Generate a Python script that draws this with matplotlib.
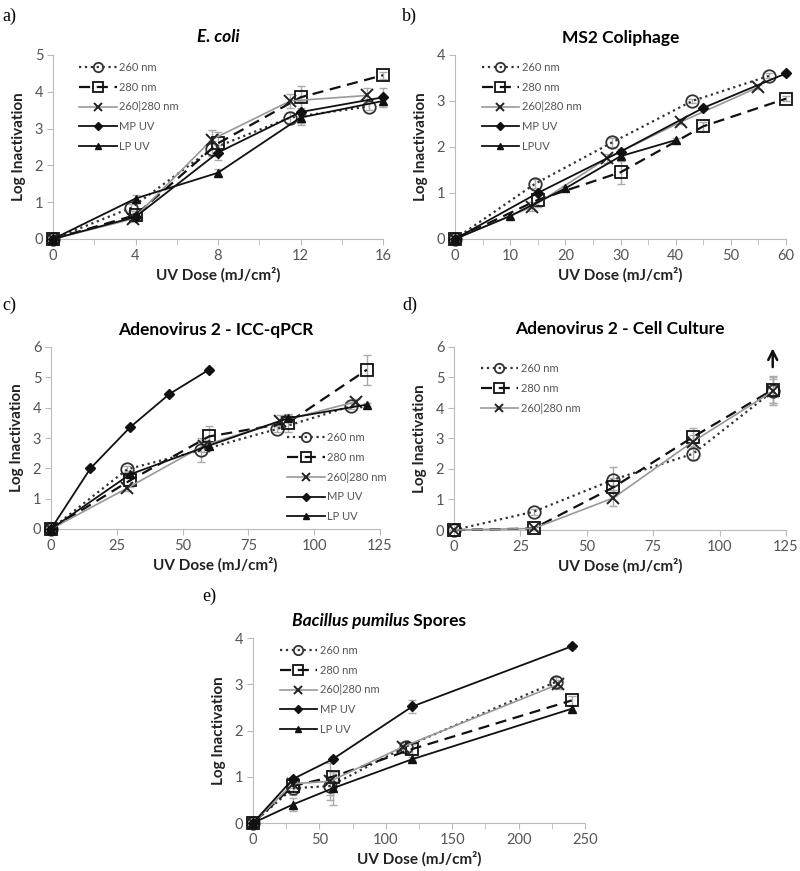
import matplotlib
matplotlib.use('Agg')
import matplotlib.pyplot as plt

plt.rcParams['font.family'] = ['Lato', 'DejaVu Sans']

labels = ['260 nm', '280 nm', '260|280 nm', 'MP UV', 'LP UV']
labels_b = ['260 nm', '280 nm', '260|280 nm', 'MP UV', 'LPUV']

# a) E. coli
a_x = [[0, 3.8, 7.7, 11.5, 15.3], [0, 4, 8, 12, 16], [0, 3.9, 7.7, 11.5, 15.2],
       [0, 4, 8, 12, 16], [0, 4, 8, 12, 16]]
a_y = [[0, 0.85, 2.45, 3.3, 3.6], [0, 0.65, 2.6, 3.85, 4.45], [0, 0.55, 2.7, 3.75, 3.9],
       [0, 0.6, 2.35, 3.45, 3.85], [0, 1.1, 1.8, 3.3, 3.75]]
a_err = [[0, 0.1, 0.2, 0.15, 0.1], [0, 0.1, 0.3, 0.3, 0.1], [0, 0.1, 0.25, 0.2, 0.2],
         [0, 0.1, 0.2, 0.3, 0.25], [0, 0.1, 0.1, 0.2, 0.1]]

# b) MS2 coliphage
b_x = [[0, 14.5, 28.5, 43, 57], [0, 15, 30, 45, 60], [0, 14, 27.5, 41, 55],
       [0, 15, 30, 45, 60], [0, 10, 20, 30, 40]]
b_y = [[0, 1.2, 2.1, 3.0, 3.55], [0, 0.85, 1.45, 2.45, 3.05], [0, 0.7, 1.75, 2.55, 3.3],
       [0, 1.0, 1.9, 2.85, 3.6], [0, 0.5, 1.1, 1.8, 2.15]]
b_err = [[0, 0.1, 0.1, 0.05, 0.05], [0, 0.15, 0.25, 0.1, 0.05], [0, 0.1, 0.1, 0.05, 0.05],
         [0, 0.05, 0.05, 0.05, 0.05], [0, 0.05, 0.05, 0.05, 0.05]]

# c) Adenovirus 2 - ICC-qPCR
c_x = [[0, 29, 57, 86, 114], [0, 30, 60, 90, 120], [0, 29, 58, 87, 116],
       [0, 15, 30, 45, 60], [0, 30, 60, 90, 120]]
c_y = [[0, 1.97, 2.6, 3.3, 4.05], [0, 1.6, 3.05, 3.5, 5.25], [0, 1.35, 2.75, 3.55, 4.2],
       [0, 2.0, 3.35, 4.45, 5.25], [0, 1.8, 2.75, 3.65, 4.1]]
c_err = [[0, 0.1, 0.4, 0.1, 0.1], [0, 0.2, 0.35, 0.3, 0.5], [0, 0.1, 0.2, 0.2, 0.1],
         [0, 0.05, 0.05, 0.05, 0.05], [0, 0.1, 0.1, 0.1, 0.05]]

# d) Adenovirus 2 - Cell Culture
d_x = [[0, 30, 60, 90, 120], [0, 30, 60, 90, 120], [0, 30, 60, 90, 120]]
d_y = [[0, 0.6, 1.65, 2.5, 4.55], [0, 0.05, 1.4, 3.05, 4.6], [0, 0.05, 1.05, 2.9, 4.55]]
d_err = [[0, 0.1, 0.4, 0.2, 0.45], [0, 0.05, 0.3, 0.3, 0.45], [0, 0.05, 0.25, 0.2, 0.4]]

# e) Bacillus pumilus spores
e_x = [[0, 30, 58, 115, 228], [0, 30, 60, 120, 240], [0, 30, 58, 113, 230],
       [0, 30, 60, 120, 240], [0, 30, 60, 120, 240]]
e_y = [[0, 0.75, 0.8, 1.65, 3.05], [0, 0.8, 1.0, 1.6, 2.65], [0, 0.85, 0.9, 1.65, 3.0],
       [0, 0.95, 1.38, 2.52, 3.82], [0, 0.4, 0.75, 1.38, 2.47]]
e_err = [[0, 0.15, 0.2, 0.1, 0.1], [0, 0.1, 0.1, 0.1, 0.1], [0, 0.1, 0.4, 0.1, 0.1],
         [0, 0.05, 0.05, 0.15, 0.05], [0, 0.15, 0.35, 0.05, 0.05]]

styles = [
    dict(color='#333333', ls=':', lw=1.6, marker='o', ms=9, mfc='none', mew=1.3),
    dict(color='#111111', ls=(0, (5, 3)), lw=1.6, marker='s', ms=9, mfc='none', mew=1.3),
    dict(color='#999999', ls='-', lw=1.2, marker='x', ms=8, mec='#222222', mew=1.4),
    dict(color='#111111', ls='-', lw=1.3, marker='D', ms=5),
    dict(color='#111111', ls='-', lw=1.3, marker='^', ms=6),
]

fig = plt.figure(figsize=(8, 8.71), dpi=100)


def px_axes(l, t, r, b):
    return fig.add_axes([l / 800, 1 - b / 871, (r - l) / 800, (b - t) / 871])


def panel(ax, xs, ys, errs, xmax, xmajor, xminor, ymax, title, italic_title=False,
          legend_loc='upper left', legend_anchor=None, names=labels):
    handles = []
    for i in range(len(xs)):
        ax.errorbar(xs[i], ys[i], yerr=errs[i], fmt='none', ecolor='#aaaaaa',
                    elinewidth=1, capsize=3, zorder=1, clip_on=False)
        h, = ax.plot(xs[i], ys[i], label=names[i], clip_on=False, zorder=3, **styles[i])
        handles.append(h)
    ax.set_xlim(0, xmax)
    ax.set_ylim(0, ymax)
    ax.set_xticks(xmajor)
    ax.set_xticks(xminor, minor=True)
    ax.set_yticks(range(0, ymax + 1))
    for s in ['top', 'right']:
        ax.spines[s].set_visible(False)
    for s in ['left', 'bottom']:
        ax.spines[s].set_color('#bbbbbb')
    ax.tick_params(colors='#bbbbbb', labelcolor='#555555', labelsize=10.5, length=4,
                   direction='out', pad=3)
    ax.tick_params(which='minor', colors='#bbbbbb', length=4)
    ax.set_xlabel('UV Dose (mJ/cm²)', fontsize=11, fontweight='bold',
                  color='#222222', labelpad=3)
    ax.set_ylabel('Log Inactivation', fontsize=11, fontweight='bold',
                  color='#222222', labelpad=6)
    if title:
        ax.set_title(title, fontsize=12.5, fontweight='bold',
                     style='italic' if italic_title else 'normal', pad=9)
    kw = dict(frameon=False, fontsize=8, handlelength=3.4, labelspacing=0.8,
              handletextpad=0.2, borderaxespad=0.2)
    leg = ax.legend(handles=handles, loc=legend_loc, bbox_to_anchor=legend_anchor, **kw)
    for t in leg.get_texts():
        t.set_color('#555555')
    for h in leg.legend_handles:
        h.set_markersize(h.get_markersize() * 0.75)


axa = px_axes(53, 55, 383, 239)
panel(axa, a_x, a_y, a_err, 16, [0, 4, 8, 12, 16], [2, 6, 10, 14], 5, 'E. coli', True,
      legend_anchor=(0.06, 1.0))

axb = px_axes(455, 55, 786, 239)
panel(axb, b_x, b_y, b_err, 60, range(0, 61, 10), range(5, 60, 10), 4, 'MS2 Coliphage',
      legend_anchor=(0.06, 1.0), names=labels_b)

axc = px_axes(51, 347, 380, 529)
panel(axc, c_x, c_y, c_err, 125, range(0, 126, 25), [], 6, 'Adenovirus 2 - ICC-qPCR',
      legend_loc='lower right', legend_anchor=(1.04, 0.0))

axd = px_axes(454, 347, 786, 530)
panel(axd, d_x, d_y, d_err, 125, range(0, 126, 25), [], 6, 'Adenovirus 2 - Cell Culture',
      legend_anchor=(0.06, 0.95))
axd.annotate('', xy=(120, 6.05), xytext=(120, 5.25),
             arrowprops=dict(arrowstyle='->', color='#111111', lw=1.8, mutation_scale=16),
             annotation_clip=False)

axe = px_axes(253, 638, 585, 823)
panel(axe, e_x, e_y, e_err, 250, range(0, 251, 50), range(25, 250, 50), 4, '',
      legend_anchor=(0.06, 1.0))
t1 = axe.text(0.47, 1.05, 'Bacillus pumilus', transform=axe.transAxes, fontsize=12.5,
              fontweight='bold', style='italic', ha='right', va='bottom')
axe.annotate(' Spores', xy=(1, 0), xycoords=t1, fontsize=12.5, fontweight='bold',
             ha='left', va='bottom')

for lab, (x, y) in zip(['a)', 'b)', 'c)', 'd)', 'e)'],
                       [(2, 16), (402, 16), (2, 305), (402, 305), (202, 596)]):
    fig.text(x / 800, 1 - y / 871, lab, fontsize=13, family='Liberation Serif',
             va='center', ha='left')

fig.savefig('out.png', dpi=100)
